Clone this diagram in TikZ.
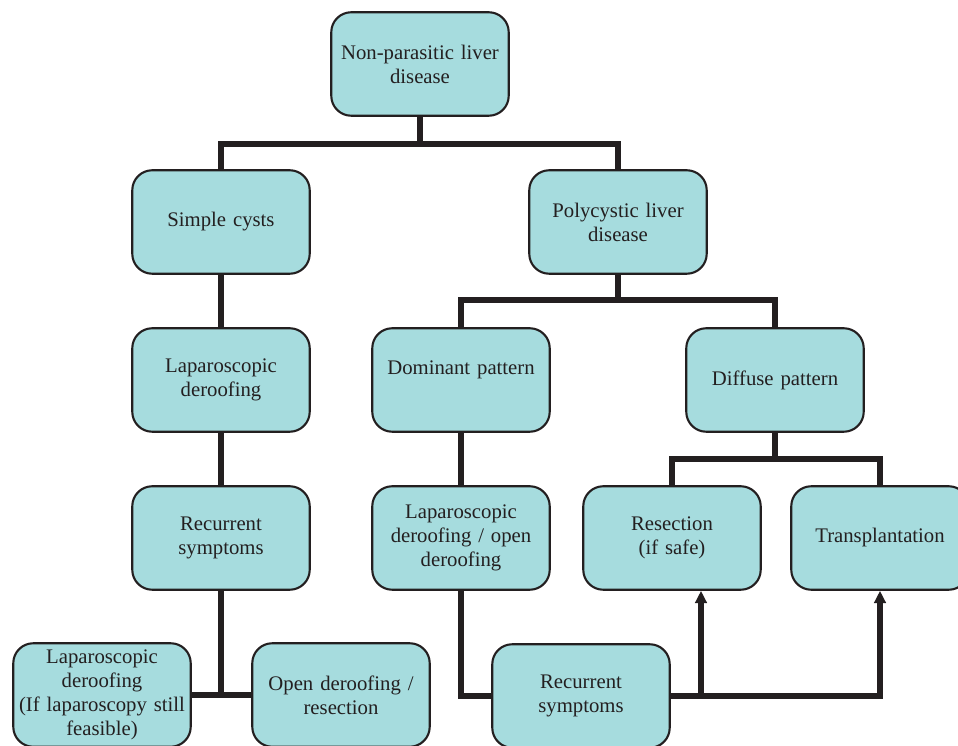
\documentclass[tikz,border=0pt]{standalone}
\usepackage{fontspec}
\setmainfont{Liberation Serif}
\usepackage{tikz}
\usetikzlibrary{arrows.meta, positioning}
\definecolor{boxfill}{RGB}{166,220,222}
\definecolor{boxline}{RGB}{35,31,32}

\tikzset{
    stepbox/.style={draw=boxline, line width=1.2pt, fill=boxfill, rounded corners=0.4cm,
        minimum width=3.55cm, minimum height=2.07cm, text width=3.4cm, inner xsep=0.5pt,
        align=center, font=\fontsize{11.8}{13.6}\selectfont, text=boxline},
    link/.style={draw=boxline, line width=3.2pt}
}

\begin{document}
\begin{tikzpicture}[x=0.02cm, y=-0.02cm, >={Triangle[length=7pt, width=6.5pt]}]
    \useasboundingbox (0,0) rectangle (958,746);
    % upper levels
    \node[stepbox] (root) at (420,64) {Non-parasitic liver\\disease};
    \node[stepbox] (simple) at (221,222) {Simple cysts};
    \node[stepbox] (poly) at (618,222) {Polycystic liver\\disease};

    \draw[link] (root.south) -- ++(0,27) -| (simple.north);
    \draw[link] (root.south) ++(0,27) -| (poly.north);

    % simple cysts branch
    \node[stepbox] (lapderoof) at (221,380) {Laparoscopic\\deroofing};
    \node[stepbox] (recleft) at (221,538) {Recurrent\\symptoms};
    \node[stepbox] (lapagain) at (102,695) {Laparoscopic\\deroofing\\(If laparoscopy still\\feasible)};
    \node[stepbox] (openres) at (341,695) {Open deroofing /\\resection};

    \draw[link] (simple) -- (lapderoof);
    \draw[link] (lapderoof) -- (recleft);
    \draw[link] (recleft.south) -- (recleft.south |- lapagain.east);
    \draw[link] (lapagain.east) -- (openres.west);

    % polycystic branch
    \node[stepbox] (dominant) at (461,380) {Dominant pattern\\\mbox{}};
    \node[stepbox] (diffuse) at (775,380) {Diffuse pattern};
    \node[stepbox] (lapopen) at (461,538) {Laparoscopic\\deroofing / open\\deroofing};
    \node[stepbox] (resect) at (672,538) {Resection\\(if safe)};
    \node[stepbox] (transpl) at (880,538) {Transplantation};
    \node[stepbox] (recright) at (581,696) {Recurrent\\symptoms};

    \draw[link] (poly.south) -- ++(0,25) -| (dominant.north);
    \draw[link] (poly.south) ++(0,25) -| (diffuse.north);
    \draw[link] (dominant) -- (lapopen);
    \draw[link] (diffuse.south) -- ++(0,26) -| (resect.north);
    \draw[link] (diffuse.south) ++(0,26) -| (transpl.north);
    \draw[link] (lapopen.south) |- (recright.west);

    % feedback to diffuse options
    \coordinate (tap) at (701,696);
    \draw[link, ->] (recright.east) -| (transpl.south);
    \draw[link, ->] (tap) -- (tap |- resect.south);
\end{tikzpicture}
\end{document}
